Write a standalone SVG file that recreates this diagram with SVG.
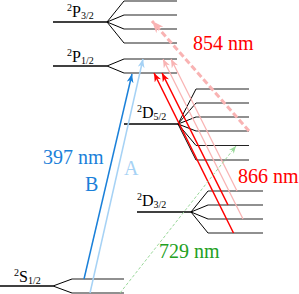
<svg xmlns="http://www.w3.org/2000/svg" width="299" height="294" viewBox="0 0 299 294">
<defs>
<marker id="hB" viewBox="0 0 10 8" refX="10" refY="4" markerWidth="9" markerHeight="7" markerUnits="userSpaceOnUse" orient="auto"><path d="M0,0 L10,4 L0,8 L3,4 z" fill="#1a80d9"/></marker>
<marker id="hA" viewBox="0 0 10 8" refX="10" refY="4" markerWidth="9" markerHeight="7" markerUnits="userSpaceOnUse" orient="auto"><path d="M0,0 L10,4 L0,8 L3,4 z" fill="#a6d2f5"/></marker>
<marker id="hR" viewBox="0 0 10 8" refX="10" refY="4" markerWidth="9" markerHeight="7" markerUnits="userSpaceOnUse" orient="auto"><path d="M0,0 L10,4 L0,8 L3,4 z" fill="#ff0000"/></marker>
<marker id="hP" viewBox="0 0 10 8" refX="10" refY="4" markerWidth="9" markerHeight="7" markerUnits="userSpaceOnUse" orient="auto"><path d="M0,0 L10,4 L0,8 L3,4 z" fill="#f9b3b3"/></marker>
<marker id="hPd" viewBox="0 0 10 8" refX="10" refY="4" markerWidth="12" markerHeight="10" markerUnits="userSpaceOnUse" orient="auto"><path d="M0,0 L10,4 L0,8 L3,4 z" fill="#f9b3b3"/></marker>
<marker id="hG" viewBox="0 0 10 8" refX="10" refY="4" markerWidth="8" markerHeight="6" markerUnits="userSpaceOnUse" orient="auto"><path d="M0,0 L10,4 L0,8 L3,4 z" fill="#9ad89a"/></marker>
</defs>
<rect width="299" height="294" fill="#fff"/>

<g id="levels" fill="none">
<g id="P32">
<line stroke="#000" stroke-width="1.7" x1="53" y1="22" x2="107" y2="22"/>
<path stroke="#000" stroke-width="1" d="M107,22 L124,1 M107,22 L124,15 M107,22 L124,29 M107,22 L124,43"/>
<path stroke="#222" stroke-width="1.2" d="M124,1 H177 M124,15 H177 M124,29 H177 M124,43 H177"/>
<text x="67" y="17" font-family="Times New Roman, Liberation Serif, serif" font-size="16" fill="#000"><tspan font-size="10" dy="-6">2</tspan><tspan dy="6">P</tspan><tspan font-size="10" dy="2">3/2</tspan></text>
</g>

<g id="P12">
<line stroke="#000" stroke-width="1.7" x1="53" y1="66" x2="107" y2="66"/>
<path stroke="#000" stroke-width="1" d="M107,66 L124,59 M107,66 L124,73"/>
<path stroke="#222" stroke-width="1.2" d="M124,59 H177 M124,73 H177"/>
<text x="67" y="61.5" font-family="Times New Roman, Liberation Serif, serif" font-size="16" fill="#000"><tspan font-size="10" dy="-6">2</tspan><tspan dy="6">P</tspan><tspan font-size="10" dy="2">1/2</tspan></text>
</g>

<g id="D52">
<line stroke="#000" stroke-width="1.7" x1="124" y1="124" x2="178" y2="124"/>
<path stroke="#000" stroke-width="1" d="M178,124 L196,89 M178,124 L196,103 M178,124 L196,117 M178,124 L196,131 M178,124 L196,145.5 M178,124 L196,160"/>
<path stroke="#222" stroke-width="1.2" d="M196,89 H249 M196,103 H249 M196,117 H249 M196,131 H249 M196,145.5 H249 M196,160 H249"/>
<text x="137" y="118" font-family="Times New Roman, Liberation Serif, serif" font-size="16" fill="#000"><tspan font-size="10" dy="-6">2</tspan><tspan dy="6">D</tspan><tspan font-size="10" dy="2">5/2</tspan></text>
</g>

<g id="D32">
<line stroke="#000" stroke-width="1.7" x1="137" y1="212" x2="191" y2="212"/>
<path stroke="#000" stroke-width="1" d="M191,212 L208,191 M191,212 L208,205 M191,212 L208,219 M191,212 L208,233"/>
<path stroke="#222" stroke-width="1.2" d="M208,191 H263 M208,205 H263 M208,219 H263 M208,233 H263"/>
<text x="137" y="205.5" font-family="Times New Roman, Liberation Serif, serif" font-size="16" fill="#000"><tspan font-size="10" dy="-6">2</tspan><tspan dy="6">D</tspan><tspan font-size="10" dy="2">3/2</tspan></text>
</g>

<g id="S12">
<line stroke="#000" stroke-width="1.7" x1="0" y1="286" x2="53" y2="286"/>
<path stroke="#000" stroke-width="1" d="M53,286 L72,279 M53,286 L72,293"/>
<path stroke="#222" stroke-width="1.2" d="M72,279 H124 M72,293 H124"/>
<text x="14" y="282" font-family="Times New Roman, Liberation Serif, serif" font-size="16" fill="#000"><tspan font-size="10" dy="-6">2</tspan><tspan dy="6">S</tspan><tspan font-size="10" dy="2">1/2</tspan></text>
</g>
</g>

<g id="connectors">
<line x1="90" y1="293" x2="143" y2="59" stroke="#a6d2f5" stroke-width="1.5" marker-end="url(#hA)"/>
<line x1="84" y1="279" x2="132" y2="74" stroke="#1a80d9" stroke-width="1.5" marker-end="url(#hB)"/>
<line x1="243" y1="219" x2="163" y2="59" stroke="#f9b3b3" stroke-width="1.3" marker-end="url(#hP)"/>
<line x1="237" y1="191" x2="171" y2="59" stroke="#f9b3b3" stroke-width="1.3" marker-end="url(#hP)"/>
<line x1="233.5" y1="233" x2="154" y2="73" stroke="#ff0000" stroke-width="1.5" marker-end="url(#hR)"/>
<line x1="228" y1="205" x2="162" y2="73" stroke="#ff0000" stroke-width="1.5" marker-end="url(#hR)"/>
<line x1="249" y1="131" x2="152" y2="21" stroke="#f9b3b3" stroke-width="3" stroke-dasharray="6,3" marker-end="url(#hPd)"/>
<line x1="120" y1="293" x2="236" y2="146" stroke="#9ad89a" stroke-width="1" stroke-dasharray="3,2" marker-end="url(#hG)"/>
</g>

<g id="labels" font-size="20">
<text x="193" y="50" fill="#ff0000" font-family="Times New Roman, Liberation Serif, serif">854 nm</text>
<text x="238" y="183" fill="#ff0000" font-family="Times New Roman, Liberation Serif, serif">866 nm</text>
<text x="43" y="164" fill="#1a80d9" font-family="Times New Roman, Liberation Serif, serif">397 nm</text>
<text x="85" y="191" fill="#1a80d9" font-family="Times New Roman, Liberation Serif, serif">B</text>
<text x="124" y="175" fill="#a6d2f5" font-family="Times New Roman, Liberation Serif, serif">A</text>
<text x="159" y="258" fill="#22a022" font-family="Times New Roman, Liberation Serif, serif">729 nm</text>
</g>
</svg>
